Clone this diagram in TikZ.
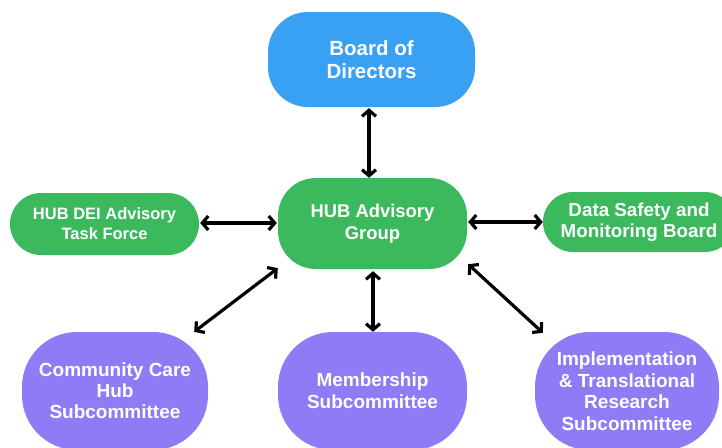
\documentclass[tikz,border=0pt]{standalone}
\usepackage{fontspec}
\setmainfont{Liberation Sans}
\usetikzlibrary{arrows.meta,calc}
\definecolor{cblue}{HTML}{38A1F3}
\definecolor{cgreen}{HTML}{3CB95D}
\definecolor{cpurple}{HTML}{8E7BF5}
\tikzset{
  box/.style={rectangle, text=white, font=\bfseries, align=center, inner sep=0pt},
  conn/.style={{Straight Barb[length=6pt,width=14pt]}-{Straight Barb[length=6pt,width=14pt]}, line width=3.2pt, black}
}
\begin{document}
\begin{tikzpicture}[x=1pt,y=-1pt]
\useasboundingbox (0,0) rectangle (722,447);
\clip (0,0) rectangle (722,447);
\fill[white] (0,0) rectangle (722,447);
\node[box, fill=cblue, rounded corners=40pt, minimum width=207pt, minimum height=95pt,
  font=\bfseries\fontsize{20.5}{23}\selectfont] (board) at (371.5,59.5) {Board of\\Directors};
\node[box, fill=cgreen, rounded corners=38pt, minimum width=189pt, minimum height=91pt,
  font=\bfseries\fontsize{18.4}{22}\selectfont] (hub) at (372.5,223.5) {HUB Advisory\\Group};
\node[box, fill=cgreen, rounded corners=31pt, minimum width=189pt, minimum height=62pt,
  font=\bfseries\fontsize{16.5}{20}\selectfont] (dei) at (104.5,224) {HUB DEI Advisory\\Task Force};
\node[box, fill=cgreen, rounded corners=30pt, minimum width=192pt, minimum height=60pt,
  font=\bfseries\fontsize{18.8}{21}\selectfont] (data) at (639,222) {Data Safety and\\Monitoring Board};
\node[box, fill=cpurple, rounded corners=55pt, minimum width=186pt, minimum height=118pt,
  font=\bfseries\fontsize{19}{21}\selectfont] (comm) at (115,391) {Community Care\\Hub\\Subcommittee};
\node[box, fill=cpurple, rounded corners=55pt, minimum width=189pt, minimum height=118pt,
  font=\bfseries\fontsize{19}{22}\selectfont] (memb) at (372.5,391) {Membership\\Subcommittee};
\node[box, fill=cpurple, rounded corners=55pt, minimum width=184pt, minimum height=118pt,
  font=\bfseries\fontsize{19}{21.5}\selectfont] (impl) at (627,391) {Implementation\\\& Translational\\Research\\Subcommittee};
\draw[conn] ($(board.south)+(-2.5,1)$) -- ($(hub.north)+(-3.5,0)$);
\draw[conn] ($(dei.east)+(1,-1)$) -- ($(hub.west)+(-1,-0.5)$);
\draw[conn] ($(hub.east)+(1,-1.5)$) -- ($(data.west)+(0,0)$);
\draw[conn] ($(hub.south west)+(0,-1)$) -- ($(comm.north east)+(-14,0)$);
\draw[conn] ($(hub.south)+(0.5,2)$) -- ($(memb.north)+(0.5,0)$);
\draw[conn] ($(hub.south east)+(1,-5)$) -- ($(impl.north west)+(8,1)$);
\end{tikzpicture}
\end{document}
